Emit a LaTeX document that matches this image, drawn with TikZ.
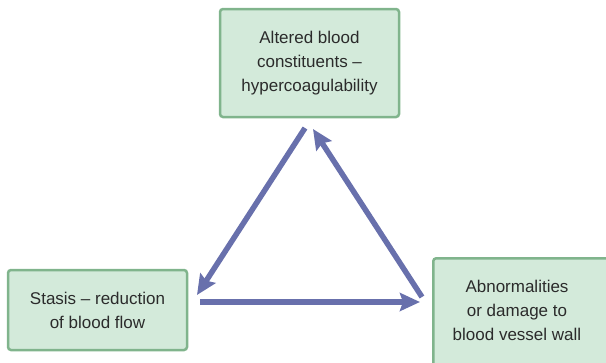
\documentclass[tikz,border=0pt]{standalone}
\usepackage{fontspec}
\setmainfont{Liberation Sans}
\usetikzlibrary{arrows.meta}
\definecolor{boxfill}{HTML}{D3EADA}
\definecolor{boxline}{HTML}{80B48C}
\definecolor{arrowblue}{HTML}{6870AC}
\definecolor{textgray}{HTML}{2B2B2B}

\begin{document}
\begin{tikzpicture}[x=1pt,y=-1pt,
  factor/.style={draw=boxline, fill=boxfill, line width=2.5pt, rounded corners=3pt,
    align=center, text=textgray, font=\fontsize{17}{24}\selectfont, inner sep=0pt},
  factortext/.style={align=center, text=textgray, font=\fontsize{17}{24}\selectfont, inner sep=0pt},
  link/.style={draw=arrowblue, line width=5.5pt,
    -{Stealth[length=20pt,width=18pt,inset=3pt]}}]
\useasboundingbox (0,0) rectangle (606,362);
\clip (0,0) rectangle (606,362);

% the three factors
\node[factor, minimum width=179pt, minimum height=108pt] (blood) at (309.5,63)
  {Altered blood\\constituents --\\hypercoagulability};
\node[factor, minimum width=179pt, minimum height=80pt] (stasis) at (97.5,310)
  {Stasis -- reduction\\of blood flow};
\node[factor, minimum width=190pt, minimum height=130pt, anchor=north west] (wall) at (432,257) {};
\node[factortext] (walltext) at (517,310)
  {Abnormalities\\or damage to\\blood vessel wall};

% arrow end points
\coordinate (b1) at (305,128);
\coordinate (s1) at (197,295);
\coordinate (s2) at (200,302);
\coordinate (w2) at (420,302);
\coordinate (w3) at (422,297);
\coordinate (b3) at (313,129);

% the cycle
\draw[link] (b1) -- (s1);
\draw[link] (s2) -- (w2);
\draw[link] (w3) -- (b3);
\end{tikzpicture}
\end{document}
